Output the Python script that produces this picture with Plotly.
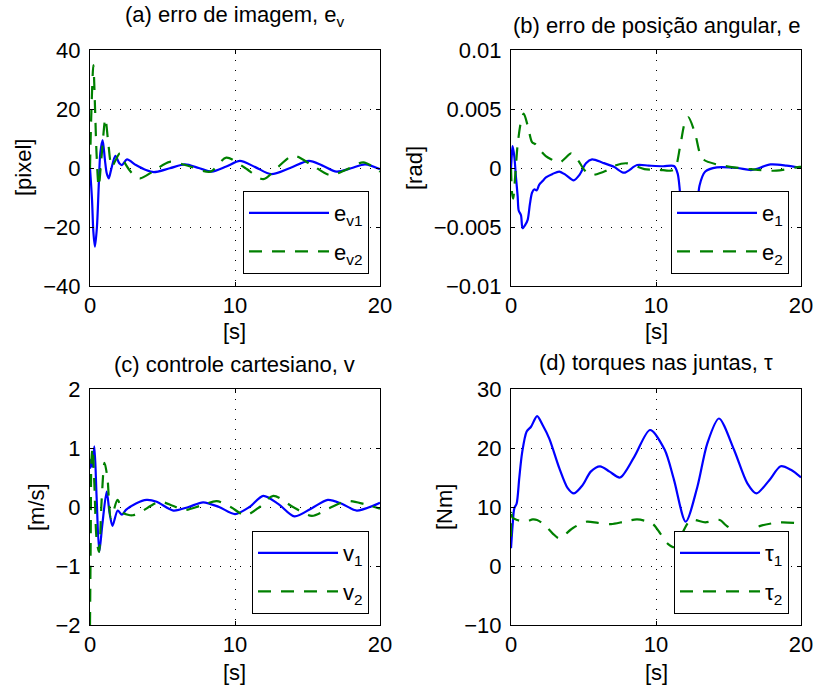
import plotly.graph_objects as go

# ---------------- data ----------------
# (a) image error e_v [pixel]
t_ev1 = [0, 0.14, 0.23, 0.34, 0.48, 0.6, 0.71, 0.87, 1.03, 1.15, 1.29, 1.45, 1.75, 2.02, 2.2, 2.55,
         3.17, 3.86, 4.4, 5.5, 6.55, 7.5, 8.4, 9.4, 10.34, 11.4, 12.5, 13.8, 15.1, 16.0, 17.0,
         18.0, 18.97, 20]
ev1 = [0, -10.8, -21.5, -26.7, -19.9, -6.3, 5.0, 9.5, 2.7, -1.7, -3.5, -0.7, 4.1, 1.6, 1.0, 2.9,
       1.0, -0.7, -1.4, -0.1, 1.2, 0.0, -1.25, 0.5, 2.4, 0.3, -2.1, 0.0, 2.4, 0.9, -1.25,
       -0.1, 1.25, -0.4]
t_ev2 = [0, 0.1, 0.23, 0.35, 0.45, 0.6, 0.8, 1.06, 1.25, 1.5, 1.75, 2.07, 2.45, 2.9, 3.45, 4.4,
         5.5, 6.9, 8.3, 9.4, 10.7, 11.95, 13.0, 14.0, 15.3, 16.55, 17.7, 18.85, 20]
ev2 = [0, 20, 34.9, 20, 5, -6.3, 4, 16.8, 9, 0.4, 2.5, 5.0, 1.3, -1.8, -3.5, -1.0,
       2.1, 0.5, -1.25, 3.5, 0.0, -3.8, 0.5, 4.2, 1.0, -2.4, -0.5, 1.9, -1.25]

# (b) angular position error e [rad]
t_e1 = [0, 0.05, 0.11, 0.23, 0.34, 0.46, 0.53, 0.69, 0.8, 0.99, 1.15, 1.31, 1.45, 1.61, 1.77,
        1.95, 2.18, 2.41, 2.87, 3.33, 3.79, 4.32, 4.71, 5.17, 5.59, 6.32, 7.1, 7.8, 8.7, 9.5,
        10.5, 11.24, 11.5, 11.8, 12.3, 12.8, 13.0, 13.4, 14.2, 15.6, 16.6, 17.9, 19.0, 20]
e1 = [0, 0.001, 0.00186, 0.00096, -0.00074, -0.0024, -0.0036, -0.004, -0.0051, -0.0048,
      -0.0044, -0.003, -0.0021, -0.0018, -0.0019, -0.0014, -0.0011, -0.0008, -0.0005,
      -0.0003, -0.0006, -0.00105, -0.0006, 0.0004, 0.00073, 0.00045, 0.0001, -0.0004,
      0.00025, 0.0002, 0.00015, 0.00017, -0.0005, -0.004, -0.0075, -0.004, -0.0015,
      -0.0003, 0.00005, 0.0, -0.00017, 0.0003, 0.0002, 0.0]
t_e2 = [0, 0.08, 0.15, 0.3, 0.46, 0.7, 0.88, 1.17, 1.45, 1.7, 1.95, 2.4, 2.76, 3.33, 3.8, 4.14,
        4.6, 5.06, 5.52, 6.55, 7.1, 7.98, 9.2, 10.2, 10.97, 11.3, 11.66, 12.0, 12.23, 12.7,
        13.03, 13.3, 14.2, 15.1, 16.5, 18.3, 19.9, 20]
e2 = [0, -0.0022, -0.0026, -0.0005, 0.002, 0.0040, 0.0046, 0.0035, 0.0022, 0.002, 0.0016,
      0.001, 0.00074, 0.00045, 0.0009, 0.00124, 0.0007, -0.00017, -0.0006, -0.00023, 0.00017,
      0.0004, -0.0001, -0.00015, -0.00023, -0.0001, 0.0018, 0.0039, 0.0043, 0.0029, 0.00124,
      0.0007, 0.0003, 0.0001, -0.0001, -0.00023, 0.0001, 0.0001]

# (c) cartesian control v [m/s]
t_v1 = [0, 0.05, 0.15, 0.3, 0.45, 0.64, 0.85, 1.15, 1.35, 1.55, 1.91, 2.2, 2.48, 3.17, 3.9,
        4.6, 5.75, 6.8, 7.8, 8.9, 10.0, 11.0, 11.95, 13.0, 14.1, 15.3, 16.4, 17.4, 18.4, 20]
v1 = [0.65, 0.8, 0.68, 1.03, 0.2, -0.76, -0.3, 0.26, -0.1, -0.32, -0.06, -0.13, -0.05, 0.06,
      0.12, 0.09, -0.06, 0.0, 0.08, 0.0, -0.12, 0.0, 0.19, 0.05, -0.16, -0.02, 0.12, 0.05,
      -0.06, 0.07]
t_v2 = [0, 0.05, 0.1, 0.18, 0.3, 0.46, 0.62, 0.8, 1.0, 1.2, 1.45, 1.9, 2.3, 2.94, 3.52, 4.83,
        5.7, 6.55, 7.6, 8.74, 9.7, 10.7, 11.7, 12.64, 14.0, 15.3, 16.5, 17.7, 18.9, 20]
v2 = [-2, -0.5, 0.8, 1.0, 0.4, -0.56, -0.76, 0.1, 0.75, 0.5, -0.19, 0.12, -0.1, -0.14, -0.08,
      0.09, 0.02, -0.05, 0.02, 0.1, 0.0, -0.14, 0.0, 0.19, 0.0, -0.15, -0.02, 0.1, 0.05, -0.03]

# (d) joint torques tau [Nm]
t_tau1 = [0, 0.11, 0.23, 0.39, 0.57, 0.76, 1.08, 1.38, 1.8, 2.18, 2.64, 3.33, 3.91, 4.34, 4.94,
          5.5, 6.14, 6.8, 7.52, 8.5, 9.59, 10.6, 11.24, 12.05, 12.85, 13.54, 14.34, 15.38, 16.3,
          16.92, 17.8, 18.6, 19.3, 20]
tau1 = [3.0, 6.9, 9.8, 10.6, 14.9, 19.1, 22.8, 23.6, 25.4, 23.9, 21.6, 16.6, 13.2, 12.3, 13.7,
        16.0, 16.9, 16.0, 15.0, 18.5, 23.05, 19.7, 14.6, 7.5, 13.4, 20.8, 25.0, 19.7, 14.0,
        12.3, 14.5, 16.9, 16.3, 15.0]
t_tau2 = [0, 0.03, 0.1, 0.43, 1.0, 1.5, 1.8, 2.3, 2.88, 3.33, 4.25, 5.17, 6.0, 6.9, 7.8, 8.7,
          9.74, 10.3, 10.8, 11.3, 11.8, 12.4, 13.4, 14.4, 14.8, 15.5, 16.3, 17.2, 18.6, 20]
tau2 = [5.0, 9.0, 8.2, 7.8, 7.5, 7.9, 7.8, 7.0, 5.5, 4.7, 6.4, 7.5, 7.3, 7.1, 7.5, 7.9,
        7.2, 5.5, 3.8, 3.2, 5.5, 7.8, 7.4, 7.8, 6.95, 5.8, 5.6, 6.8, 7.4, 7.2]

# axis ticks
x_ticks = [0, 10, 20]
x_ticktext = ["0", "10", "20"]
ya_ticks = [-40, -20, 0, 20, 40]
ya_ticktext = ["\u221240", "\u221220", "0", "20", "40"]
yb_ticks = [-0.01, -0.005, 0, 0.005, 0.01]
yb_ticktext = ["\u22120.01", "\u22120.005", "0", "0.005", "0.01"]
yc_ticks = [-2, -1, 0, 1, 2]
yc_ticktext = ["\u22122", "\u22121", "0", "1", "2"]
yd_ticks = [-10, 0, 10, 20, 30]
yd_ticktext = ["\u221210", "0", "10", "20", "30"]

titles = ["(a) erro de imagem, e<sub>v</sub>", "(b) erro de posição angular, e",
          "(c) controle cartesiano, v", "(d) torques nas juntas, \u03c4"]
ylabels = ["[pixel]", "[rad]", "[m/s]", "[Nm]"]
xlabel = "[s]"

# ---------------- figure ----------------
W, H = 814, 687
FONT = "Liberation Sans, Arial, Helvetica, sans-serif"
FS = 22
BLUE = "#0000ff"
GREEN = "#008000"
DASH = "13px,10px"


def px(x):
    return x / W


def py(y):
    return 1 - y / H


fig = go.Figure()

panels = [
    ("x", "y", "legend", t_ev1, ev1, "e<sub>v1</sub>", t_ev2, ev2, "e<sub>v2</sub>"),
    ("x2", "y2", "legend2", t_e1, e1, "e<sub>1</sub>", t_e2, e2, "e<sub>2</sub>"),
    ("x3", "y3", "legend3", t_v1, v1, "v<sub>1</sub>", t_v2, v2, "v<sub>2</sub>"),
    ("x4", "y4", "legend4", t_tau1, tau1, "\u03c4<sub>1</sub>", t_tau2, tau2, "\u03c4<sub>2</sub>"),
]

for i, (xa, ya, lg, ta, a, na, tb, b, nb) in enumerate(panels):
    fig.add_trace(go.Scatter(x=ta, y=a, name=na, mode="lines", xaxis=xa, yaxis=ya, legend=lg,
                             legendgroup=f"g{i}a",
                             line=dict(color=BLUE, width=2.2, shape="spline", smoothing=0.8)))
    fig.add_trace(go.Scatter(x=tb, y=b, name=nb, mode="lines", xaxis=xa, yaxis=ya, legend=lg,
                             legendgroup=f"g{i}b",
                             line=dict(color=GREEN, width=2.2, dash=DASH, shape="spline",
                                       smoothing=0.8)))

# panel boxes in pixels: (left, right, top, bottom)
boxes = [(90, 380, 50, 286), (511, 801, 50, 286), (90, 380, 389, 625), (511, 801, 389, 625)]
yranges = [(-40, 40), (-0.01, 0.01), (-2, 2), (-10, 30)]
yticks = [(ya_ticks, ya_ticktext), (yb_ticks, yb_ticktext), (yc_ticks, yc_ticktext),
          (yd_ticks, yd_ticktext)]

common = dict(showline=True, mirror="ticks", linecolor="black", linewidth=1,
              ticks="inside", ticklen=4, tickcolor="black",
              showgrid=True, gridcolor="black", gridwidth=1, griddash="1px,9px",
              zeroline=False, automargin=False,
              tickfont=dict(family=FONT, size=FS, color="black"))

layout = {}
for i, (l, r, t, b) in enumerate(boxes):
    sfx = "" if i == 0 else str(i + 1)
    layout["xaxis" + sfx] = dict(domain=[px(l), px(r)], anchor="y" + sfx, range=[0, 20],
                                 tickvals=x_ticks, ticktext=x_ticktext,
                                 ticklabelstandoff=0, **common)
    layout["yaxis" + sfx] = dict(domain=[py(b), py(t)], anchor="x" + sfx, range=list(yranges[i]),
                                 tickvals=yticks[i][0], ticktext=yticks[i][1],
                                 ticklabelstandoff=4, **common)

# legends: right/bottom corners of each box in pixels
legend_pos = [(369, 274), (789, 274), (369, 614), (789, 614)]
for i, (lx, ly) in enumerate(legend_pos):
    key = "legend" if i == 0 else f"legend{i + 1}"
    layout[key] = dict(x=px(lx), y=py(ly), xanchor="right", yanchor="bottom",
                       bgcolor="white", bordercolor="black", borderwidth=1,
                       font=dict(family=FONT, size=FS, color="black"),
                       itemwidth=80, tracegroupgap=7)

annotations = []
title_pos = [(235, 16), (656, 25), (235, 364), (656, 362)]
ylabel_pos = [(23, 168), (414, 168), (36, 507), (444, 507)]
xlabel_pos = [(235, 331), (656, 331), (235, 672), (656, 672)]
for i in range(4):
    annotations.append(dict(text=titles[i], x=px(title_pos[i][0]), y=py(title_pos[i][1]),
                            xref="paper", yref="paper", showarrow=False,
                            xanchor="center", yanchor="middle",
                            font=dict(family=FONT, size=FS, color="black")))
    annotations.append(dict(text=ylabels[i], x=px(ylabel_pos[i][0]), y=py(ylabel_pos[i][1]),
                            xref="paper", yref="paper", showarrow=False, textangle=-90,
                            xanchor="center", yanchor="middle",
                            font=dict(family=FONT, size=FS, color="black")))
    annotations.append(dict(text=xlabel, x=px(xlabel_pos[i][0]), y=py(xlabel_pos[i][1]),
                            xref="paper", yref="paper", showarrow=False,
                            xanchor="center", yanchor="middle",
                            font=dict(family=FONT, size=FS, color="black")))

fig.update_layout(width=W, height=H,
                  margin=dict(l=0, r=0, t=0, b=0, pad=0, autoexpand=False),
                  paper_bgcolor="white", plot_bgcolor="white",
                  showlegend=True, annotations=annotations, **layout)

fig.write_html("out.html")
